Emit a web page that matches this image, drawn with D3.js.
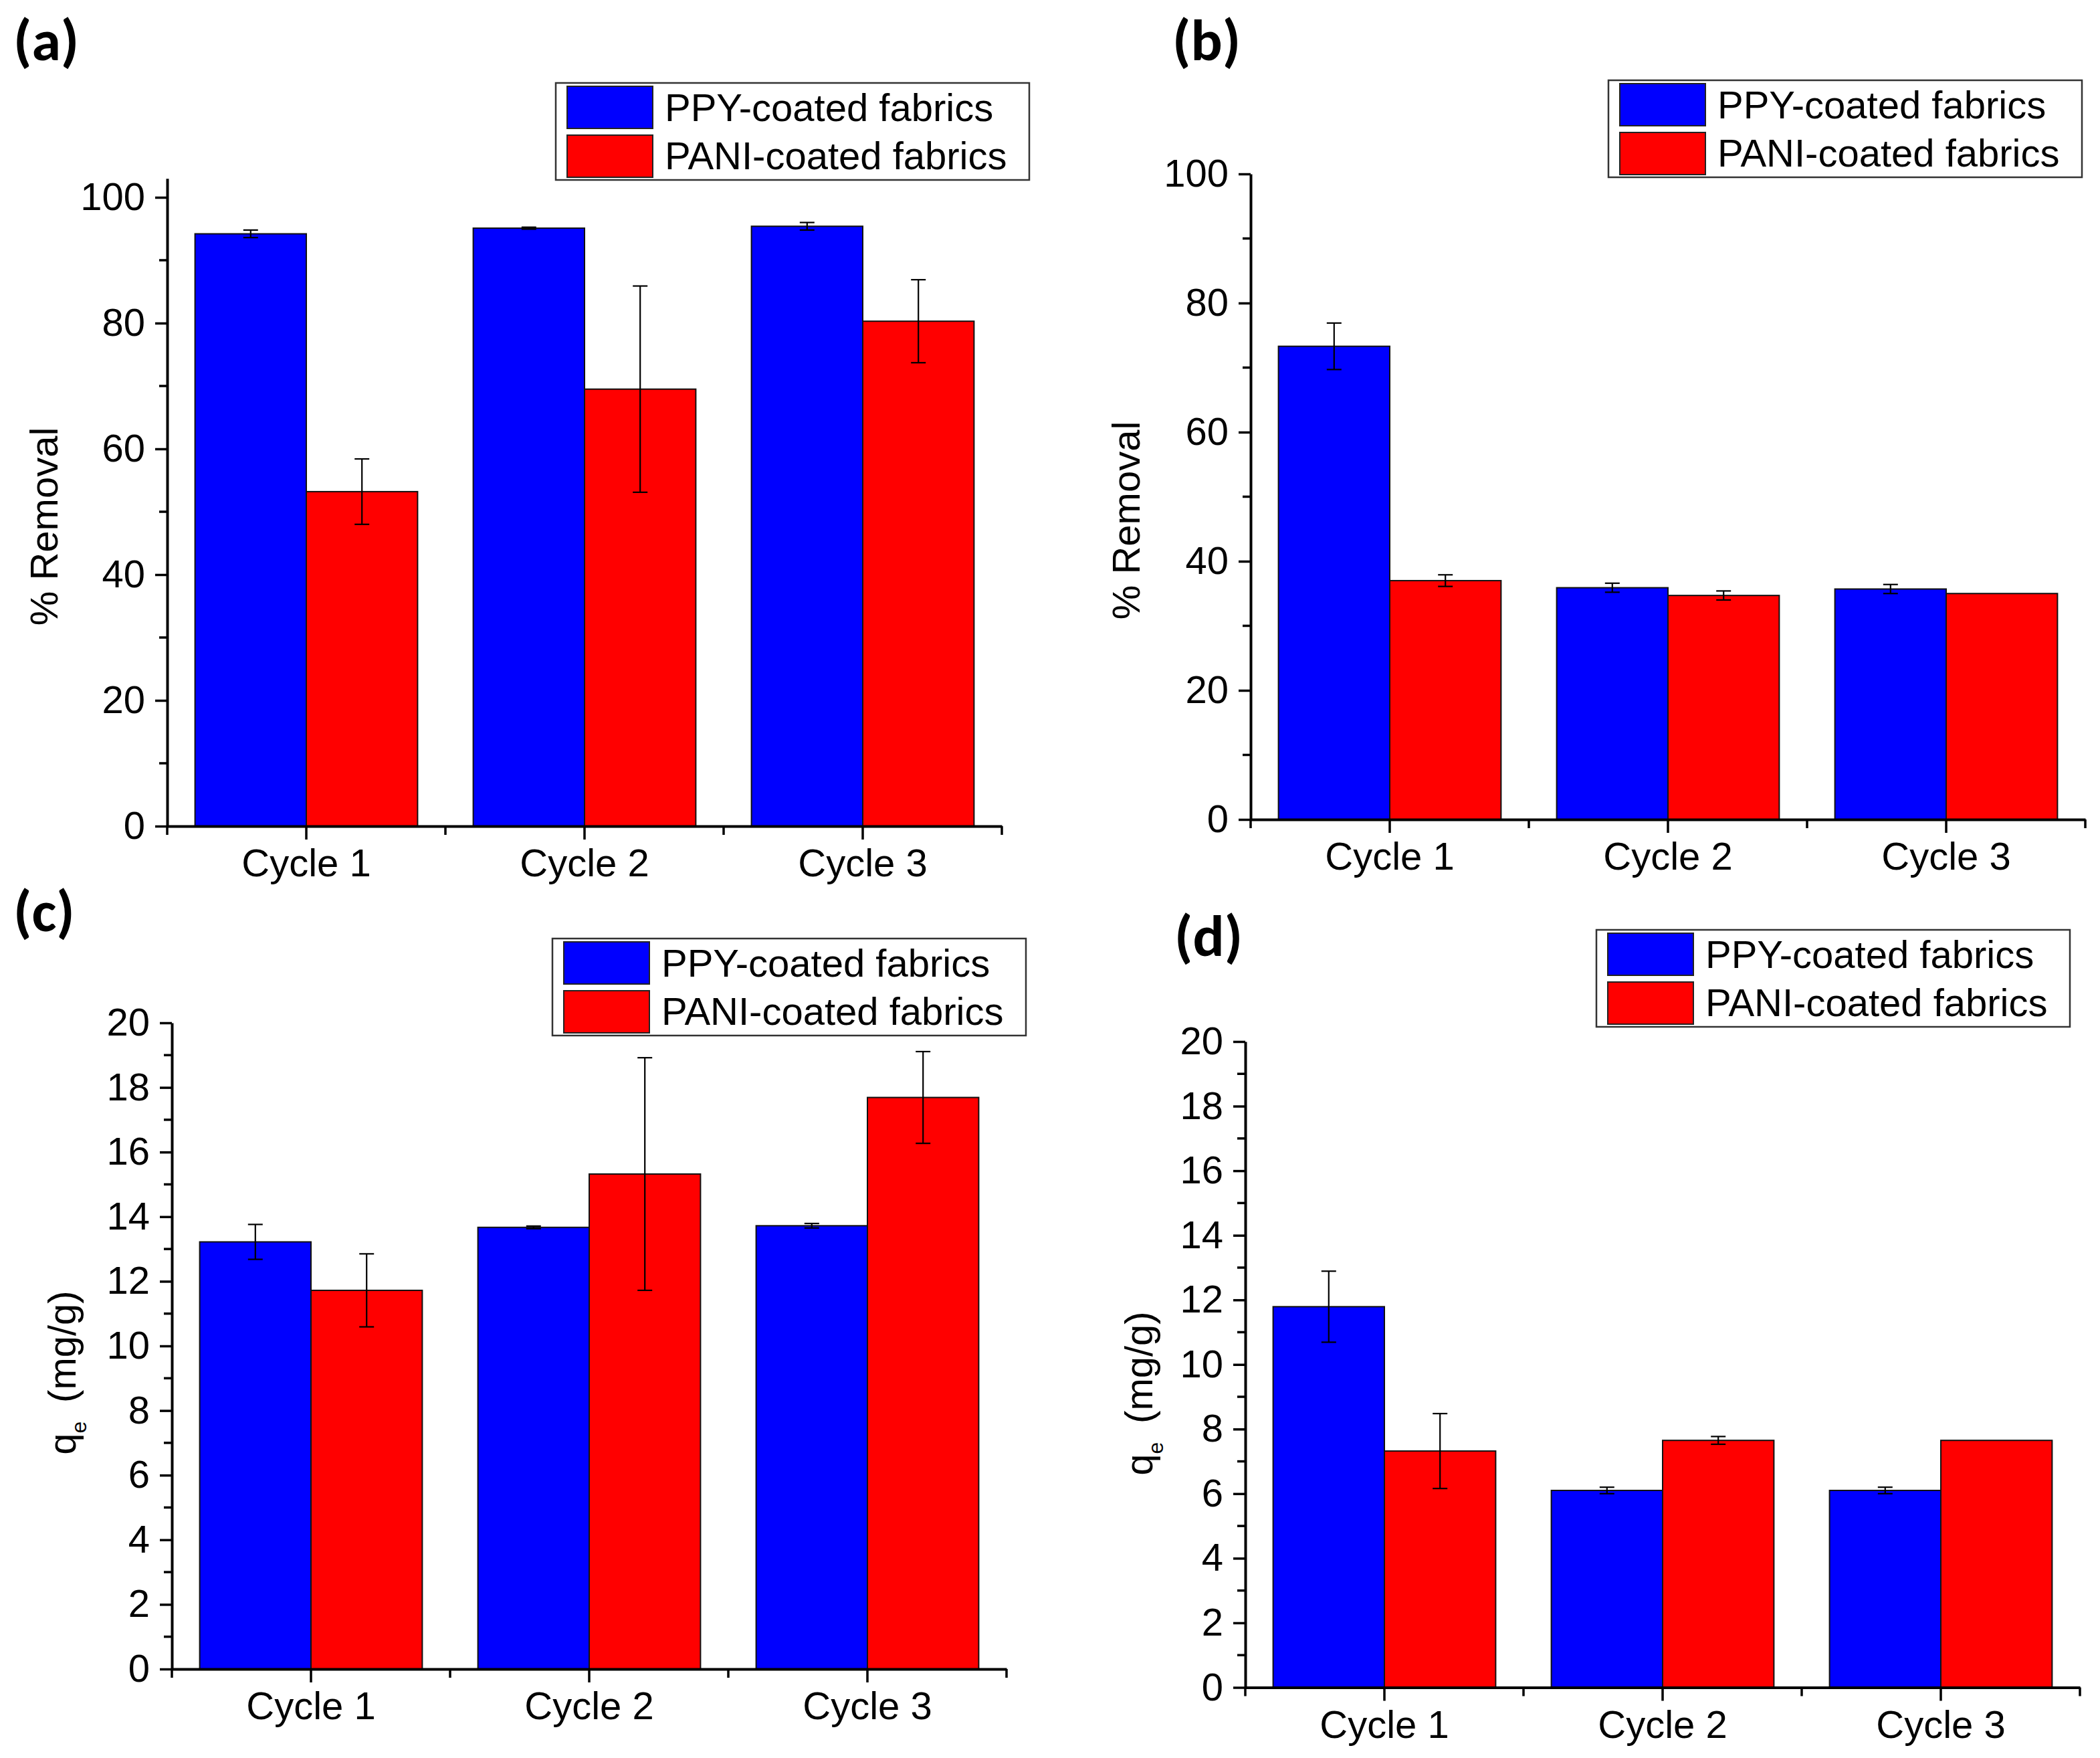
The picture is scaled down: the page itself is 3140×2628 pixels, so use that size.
<!DOCTYPE html>
<html><head><meta charset="utf-8">
<script src="https://cdn.jsdelivr.net/npm/d3@7"></script>
<style>body{margin:0;background:#fff} svg{display:block}</style></head>
<body>
<script>
// ---------- data ----------
const cycles = ["Cycle 1", "Cycle 2", "Cycle 3"];
const seriesNames = ["PPY-coated fabrics", "PANI-coated fabrics"];
const seriesColors = ["#0000ff", "#ff0000"];

// (a) % removal
const ppyRemovalA = [94.2, 95.1, 95.4];
const ppyRemovalErrA = [0.6, 0.15, 0.6];
const paniRemovalA = [53.2, 69.5, 80.3];
const paniRemovalErrA = [5.2, 16.4, 6.6];
// (b) % removal
const ppyRemovalB = [73.3, 35.9, 35.7];
const ppyRemovalErrB = [3.6, 0.7, 0.7];
const paniRemovalB = [37.0, 34.7, 35.0];
const paniRemovalErrB = [0.9, 0.7, 0];
// (c) qe
const ppyQeC = [13.22, 13.67, 13.72];
const ppyQeErrC = [0.54, 0.04, 0.07];
const paniQeC = [11.72, 15.32, 17.69];
const paniQeErrC = [1.13, 3.6, 1.42];
// (d) qe
const ppyQeD = [11.79, 6.10, 6.10];
const ppyQeErrD = [1.1, 0.1, 0.1];
const paniQeD = [7.32, 7.65, 7.65];
const paniQeErrD = [1.16, 0.12, 0];

const removalTicks = [0, 20, 40, 60, 80, 100];
const qeTicks = [0, 2, 4, 6, 8, 10, 12, 14, 16, 18, 20];

// ---------- layout ----------
const W = 3140, H = 2628;
const FONT = "'Liberation Sans', Arial, Helvetica, sans-serif";
const FS = 58;

const panels = [
  {label: "(a)", vals: [ppyRemovalA, paniRemovalA], errs: [ppyRemovalErrA, paniRemovalErrA],
   ticks: removalTicks, minor: 10, yMax: 103, title: "% Removal", qe: false,
   x0: 250, x1: 1498, y0: 1235, yTop: 1235 - 103 * 9.4,
   lx: 831, ly: 124, px: 20, py: 90, tx: 86, ty: 787},
  {label: "(b)", vals: [ppyRemovalB, paniRemovalB], errs: [ppyRemovalErrB, paniRemovalErrB],
   ticks: removalTicks, minor: 10, yMax: 100, title: "% Removal", qe: false,
   x0: 1870, x1: 3118, y0: 1225, yTop: 260,
   lx: 2405, ly: 120, px: 1753, py: 90, tx: 1704, ty: 778},
  {label: "(c)", vals: [ppyQeC, paniQeC], errs: [ppyQeErrC, paniQeErrC],
   ticks: qeTicks, minor: 1, yMax: 20, title: "qe", qe: true,
   x0: 257, x1: 1505, y0: 2495, yTop: 1529,
   lx: 826, ly: 1403, px: 20, py: 1392, tx: 113, ty: 2052},
  {label: "(d)", vals: [ppyQeD, paniQeD], errs: [ppyQeErrD, paniQeErrD],
   ticks: qeTicks, minor: 1, yMax: 20, title: "qe", qe: true,
   x0: 1862, x1: 3110, y0: 2522.5, yTop: 1557,
   lx: 2387, ly: 1390, px: 1756, py: 1429, tx: 1723, ty: 2083}
];

const svg = d3.select("body").append("svg")
  .attr("width", W).attr("height", H).attr("viewBox", `0 0 ${W} ${H}`)
  .style("font-family", FONT);
svg.append("rect").attr("width", W).attr("height", H).attr("fill", "#fff");

panels.forEach(p => {
  const g = svg.append("g");
  const x = d3.scaleBand().domain(cycles).range([p.x0, p.x1]).paddingInner(0.2).paddingOuter(0.1);
  const xs = d3.scaleBand().domain([0, 1]).range([0, x.bandwidth()]);
  const y = d3.scaleLinear().domain([0, p.yMax]).range([p.y0, p.yTop]);

  // bars
  seriesNames.forEach((s, si) => {
    g.append("g").selectAll("rect").data(p.vals[si]).join("rect")
      .attr("x", (d, i) => x(cycles[i]) + xs(si))
      .attr("y", d => y(d))
      .attr("width", xs.bandwidth())
      .attr("height", d => y(0) - y(d))
      .attr("fill", seriesColors[si])
      .attr("stroke", "#111").attr("stroke-width", 2);
  });
  // error bars
  seriesNames.forEach((s, si) => {
    const eg = g.append("g").attr("stroke", "#000").attr("stroke-width", 2.2);
    p.vals[si].forEach((v, i) => {
      const e = p.errs[si][i];
      if (!e) return;
      const cx = x(cycles[i]) + xs(si) + xs.bandwidth() / 2;
      eg.append("line").attr("x1", cx).attr("x2", cx).attr("y1", y(v - e)).attr("y2", y(v + e));
      [v - e, v + e].forEach(t => eg.append("line")
        .attr("x1", cx - 11).attr("x2", cx + 11).attr("y1", y(t)).attr("y2", y(t)));
    });
  });

  // y axis minor ticks
  const minorVals = d3.range(p.minor, p.ticks[p.ticks.length - 1], p.minor * 2);
  g.append("g").selectAll("line").data(minorVals).join("line")
    .attr("x1", p.x0 - 12).attr("x2", p.x0).attr("y1", d => y(d)).attr("y2", d => y(d))
    .attr("stroke", "#000").attr("stroke-width", 3.5);
  // y axis
  const ya = g.append("g").attr("transform", `translate(${p.x0},0)`)
    .call(d3.axisLeft(y).tickValues(p.ticks).tickSize(18).tickSizeOuter(0).tickPadding(15)
      .tickFormat(d3.format("d")));
  ya.select(".domain").attr("stroke-width", 4).attr("stroke", "#000");
  ya.selectAll(".tick line").attr("stroke-width", 3.5).attr("stroke", "#000");
  ya.selectAll(".tick text").attr("font-size", FS).attr("font-family", FONT).attr("fill", "#000");

  // x axis boundary (minor) ticks
  const bounds = d3.range(0, cycles.length + 1).map(i => p.x0 + i * x.step());
  g.append("g").selectAll("line").data(bounds).join("line")
    .attr("x1", d => d).attr("x2", d => d).attr("y1", p.y0).attr("y2", p.y0 + 13)
    .attr("stroke", "#000").attr("stroke-width", 3.5);
  const xa = g.append("g").attr("transform", `translate(0,${p.y0})`)
    .call(d3.axisBottom(x).tickSize(20).tickSizeOuter(0).tickPadding(14));
  xa.select(".domain").attr("stroke-width", 4).attr("stroke", "#000");
  xa.selectAll(".tick line").attr("stroke-width", 3.5).attr("stroke", "#000");
  xa.selectAll(".tick text").attr("font-size", FS).attr("font-family", FONT).attr("fill", "#000");

  // y title
  const t = g.append("text").attr("transform", `translate(${p.tx},${p.ty}) rotate(-90)`)
    .attr("text-anchor", "middle").attr("font-size", FS).attr("fill", "#000");
  if (p.qe) {
    t.append("tspan").text("q");
    t.append("tspan").attr("font-size", 32).attr("dy", 16).text("e");
    t.append("tspan").attr("dy", -16).text("\u2009 (mg/g)");
  } else {
    t.text(p.title);
  }

  // panel label
  g.append("text").attr("x", p.px).attr("y", p.py).text(p.label)
    .attr("font-family", "Carlito, Lato, 'Open Sans', sans-serif").attr("font-weight", "bold")
    .attr("font-size", 88).attr("fill", "#000");

  // legend
  const lg = g.append("g").attr("transform", `translate(${p.lx},${p.ly})`);
  lg.append("rect").attr("width", 708).attr("height", 145)
    .attr("fill", "#fff").attr("stroke", "#333").attr("stroke-width", 2.5);
  seriesNames.forEach((s, si) => {
    lg.append("rect").attr("x", 17).attr("y", 5 + si * 73).attr("width", 128).attr("height", 63)
      .attr("fill", seriesColors[si]).attr("stroke", "#222").attr("stroke-width", 2);
    lg.append("text").attr("x", 163).attr("y", 57 + si * 72).text(s)
      .attr("font-size", FS).attr("fill", "#000");
  });
});
</script>
</body></html>
